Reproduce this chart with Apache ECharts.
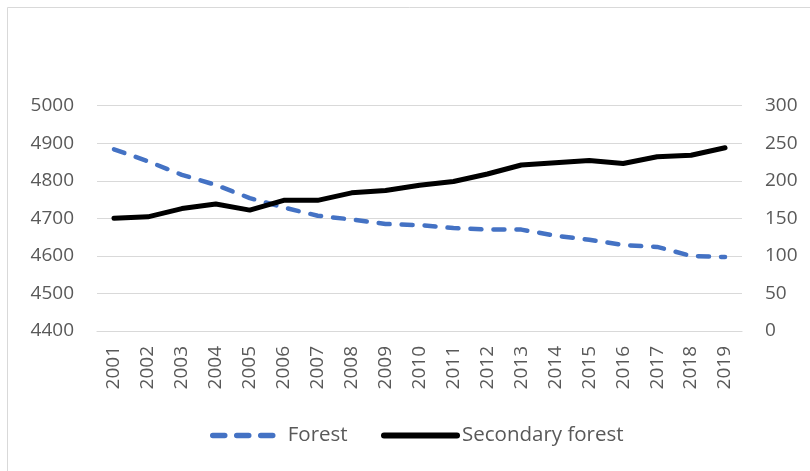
<!DOCTYPE html>
<html>
<head>
<meta charset="utf-8">
<script src="https://cdn.jsdelivr.net/npm/echarts@6/dist/echarts.min.js"></script>
<style>
  html, body { margin: 0; padding: 0; background: #fff; }
  #chart { width: 810px; height: 471px; }
</style>
</head>
<body>
<div id="chart"></div>
<script>
// Years on the category axis
const years = ['2001','2002','2003','2004','2005','2006','2007','2008','2009','2010',
               '2011','2012','2013','2014','2015','2016','2017','2018','2019'];
// Forest area (left axis)
const forest = [4884, 4852, 4816, 4789, 4754, 4729, 4707, 4697, 4685, 4682,
                4674, 4670, 4670, 4654, 4643, 4629, 4624, 4600, 4597];
// Secondary forest area (right axis)
const secondaryForest = [150, 152, 163, 169, 161, 174, 174, 184, 187, 194,
                         199, 209, 221, 224, 227, 223, 232, 234, 244];

const leftTicks = { min: 4400, max: 5000, interval: 100 };
const rightTicks = { min: 0, max: 300, interval: 50 };

const font = '"Open Sans", "Noto Sans", sans-serif';
const labelColor = '#595959';
const gridColor = '#d9d9d9';
const forestColor = '#4472C4';

const chart = echarts.init(document.getElementById('chart'), null, { renderer: 'canvas' });

const legendText = { color: labelColor, fontSize: 20.5, fontFamily: font };

chart.setOption({
  animation: false,
  backgroundColor: '#fff',
  graphic: [{
    type: 'rect',
    shape: { x: 7.5, y: 7.5, width: 900, height: 900 },
    style: { fill: 'none', stroke: '#d9d9d9', lineWidth: 1 },
    silent: true
  }],
  grid: { left: 97, right: 68, top: 105.7, bottom: 140, containLabel: false },
  legend: [{
    left: 210, top: 425, padding: 0,
    itemWidth: 66, itemHeight: 6,
    lineStyle: { width: 5.5, cap: 'round', type: [12, 12] },
    textStyle: Object.assign({ padding: [0, 0, 0, 4] }, legendText),
    data: [{ name: 'Forest', itemStyle: { opacity: 0 } }]
  }, {
    left: 381, top: 425, padding: 0,
    itemWidth: 73, itemHeight: 6,
    lineStyle: { width: 6, cap: 'round' },
    textStyle: Object.assign({ padding: [0, 0, 0, 0] }, legendText),
    data: [{ name: 'Secondary forest', itemStyle: { opacity: 0 } }]
  }],
  xAxis: {
    type: 'category',
    data: years,
    boundaryGap: true,
    axisLine: { show: true, lineStyle: { color: gridColor, width: 1.2 } },
    axisTick: { show: false },
    axisLabel: {
      rotate: 90,
      color: labelColor,
      fontSize: 19,
      fontFamily: font,
      margin: 15,
      interval: 0
    }
  },
  yAxis: [{
    type: 'value',
    position: 'left',
    min: leftTicks.min, max: leftTicks.max, interval: leftTicks.interval,
    axisLine: { show: false },
    axisTick: { show: false },
    splitLine: { lineStyle: { color: gridColor, width: 1.2 } },
    axisLabel: {
      color: labelColor, fontSize: 19, fontFamily: font, margin: 23,
      formatter: v => String(v)
    }
  }, {
    type: 'value',
    position: 'right',
    min: rightTicks.min, max: rightTicks.max, interval: rightTicks.interval,
    axisLine: { show: false },
    axisTick: { show: false },
    splitLine: { show: false },
    axisLabel: {
      color: labelColor, fontSize: 19, fontFamily: font, margin: 23,
      formatter: v => String(v)
    }
  }],
  series: [{
    name: 'Forest',
    type: 'line',
    yAxisIndex: 0,
    data: forest,
    symbol: 'none',
    color: forestColor,
    lineStyle: { color: forestColor, width: 4.5, type: [11, 12], cap: 'round', join: 'round' }
  }, {
    name: 'Secondary forest',
    type: 'line',
    yAxisIndex: 1,
    data: secondaryForest,
    symbol: 'none',
    color: '#000000',
    lineStyle: { color: '#000000', width: 5, cap: 'round', join: 'round' }
  }]
});
</script>
</body>
</html>
